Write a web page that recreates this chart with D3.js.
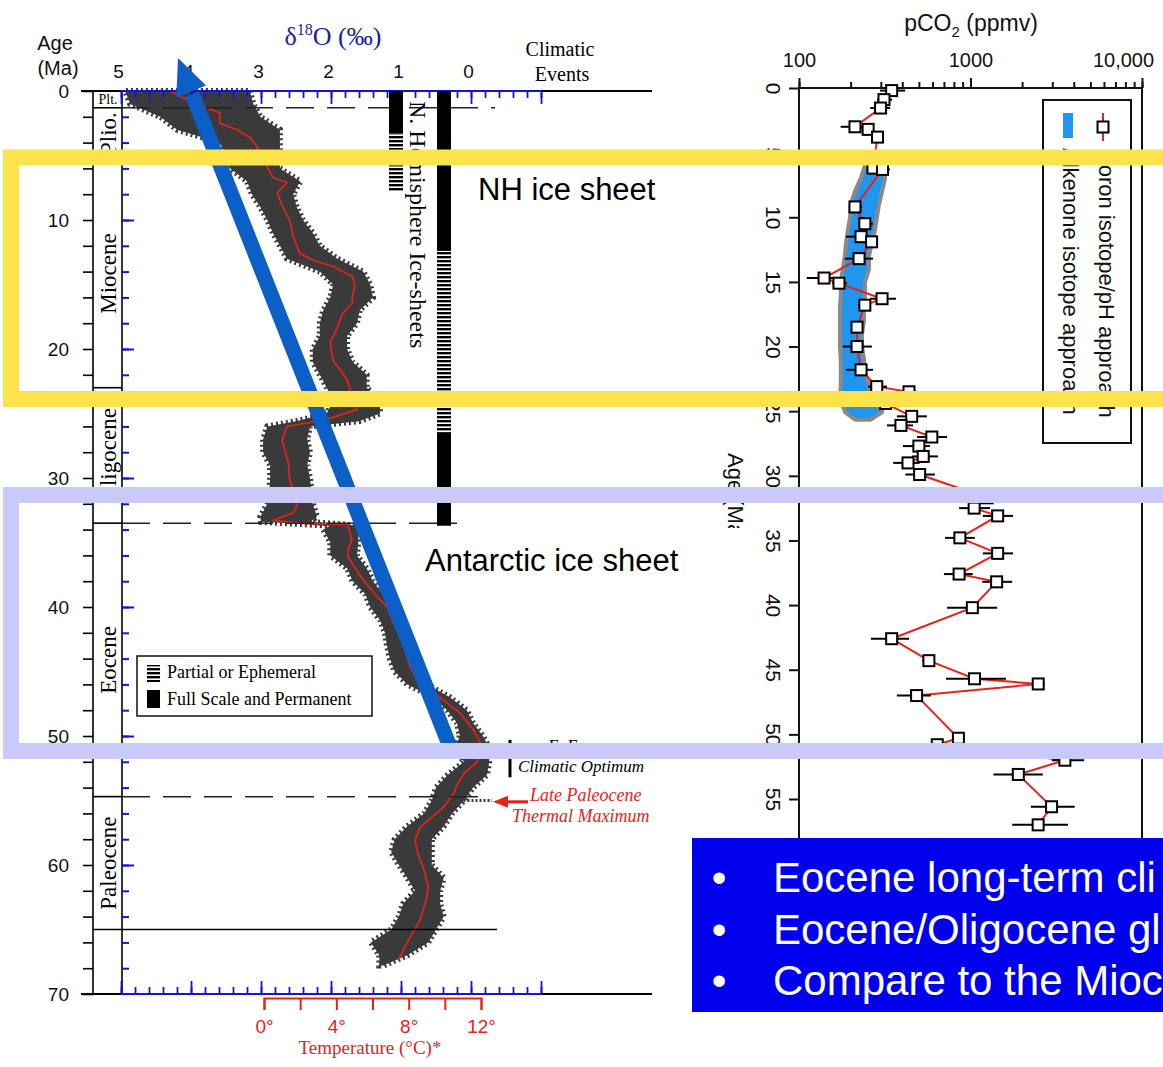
<!DOCTYPE html>
<html>
<head>
<meta charset="utf-8">
<script src="https://cdn.jsdelivr.net/npm/d3@7"></script>
<style>
  body { margin: 0; background: #fff; }
  svg { display: block; }
</style>
</head>
<body>
<div id="chart"></div>
<script>
// ---------- data: benthic d18O stack (left panel) ----------
const curveAge = [0, 0.7, 1.7, 2.5, 3.0, 3.6, 4.3, 5.9, 6.7, 7.1, 7.9, 9.0, 10.0, 11.3, 12.6, 13.1, 13.6, 14.4, 15.2, 16.0,
  16.4, 17.2, 18.3, 19.5, 20.9, 21.9, 22.4, 23.6, 24.7, 25.3, 25.7, 26.0, 27.1, 27.8, 28.8, 30.2, 31.3, 32.2, 32.7, 33.3,
  33.5, 33.6, 34.2, 34.8, 35.6, 36.1, 37.9, 39.2, 40.0, 41.2, 42.6, 43.9, 44.7, 45.3, 46.3, 47.2, 48.2, 49.5, 50.5, 51.5,
  52.0, 52.9, 53.9, 54.4, 55.5, 56.3, 57.1, 58.1, 59.1, 60.4, 61.7, 62.7, 64.3, 66.0, 67.4];
const curveD18 = [4.30, 4.05, 3.59, 3.59, 3.34, 3.16, 3.06, 2.91, 2.83, 2.63, 2.77, 2.69, 2.59, 2.54, 2.44, 2.26, 1.97, 1.69, 1.66, 1.70,
  1.69, 1.83, 1.91, 2.01, 1.97, 1.83, 1.77, 1.70, 1.63, 1.97, 2.30, 2.63, 2.70, 2.66, 2.61, 2.59, 2.51, 2.49, 2.54, 2.83,
  2.44, 1.77, 1.73, 1.70, 1.76, 1.76, 1.54, 1.34, 1.20, 1.11, 0.97, 0.91, 0.87, 0.80, 0.59, 0.40, 0.16, -0.03, -0.13, -0.10,
  -0.09, 0.10, 0.21, 0.24, 0.39, 0.56, 0.73, 0.80, 0.76, 0.67, 0.61, 0.64, 0.73, 0.91, 1.04];

// spread of the individual measurements (heavy = left edge, light = right edge)
const cloudAge = [0, 1, 2, 3, 4, 5, 6, 7, 8, 9, 10, 11, 12, 13, 14, 15, 16, 17, 18, 19, 20, 21, 22, 23, 24, 25, 25.6,
  26, 27, 28, 29, 30, 31, 32, 33, 33.4, 33.7, 34, 35, 36, 37, 38, 39, 40, 41, 42, 43, 44, 45, 46, 47, 48, 49, 50, 51,
  52, 53, 54, 55, 56, 57, 58, 59, 60, 61, 62, 63, 64, 65, 66, 67, 67.8];
const cloudHeavy = [4.94, 4.87, 4.44, 4.20, 3.59, 3.5, 3.44, 3.2, 3.13, 3.01, 2.91, 2.83, 2.73, 2.63, 2.16, 1.97, 2.01, 2.11, 2.16, 2.16,
  2.26, 2.26, 2.16, 2.06, 1.97, 2.06, 2.5, 2.91, 2.97, 2.97, 2.87, 2.87, 2.88, 2.91, 3.01, 3.0, 2.0, 2.11, 2.01, 2.01,
  1.77, 1.69, 1.51, 1.44, 1.30, 1.23, 1.20, 1.16, 1.09, 0.91, 0.54, 0.34, 0.20, 0.16, 0.23, 0.10, 0.33, 0.50, 0.56, 0.67,
  0.91, 1.09, 1.14, 1.03, 0.91, 0.80, 0.97, 1.03, 1.14, 1.43, 1.31, 1.31];
const cloudLight = [3.16, 3.11, 3.01, 2.73, 2.73, 2.73, 2.73, 2.44, 2.54, 2.49, 2.40, 2.26, 2.16, 1.91, 1.54, 1.44, 1.40, 1.59, 1.63, 1.77,
  1.77, 1.69, 1.49, 1.49, 1.30, 1.30, 1.6, 2.30, 2.34, 2.30, 2.34, 2.30, 2.28, 2.26, 2.20, 2.3, 1.6, 1.61, 1.61, 1.63,
  1.49, 1.40, 1.26, 1.09, 1.01, 0.94, 0.87, 0.83, 0.77, 0.63, 0.30, 0.06, -0.03, -0.17, -0.27, -0.26, -0.23, -0.03, 0.10, 0.27,
  0.39, 0.56, 0.56, 0.56, 0.39, 0.44, 0.44, 0.39, 0.50, 0.61, 0.91, 1.25];

const petmAge = 55.0;
const petmD18 = [0.45, -0.3];

const epochNames = ["Plt.", "Plio.", "Miocene", "Oligocene", "Eocene", "Paleocene"];
const epochStart = [0, 1.3, 5.3, 23.0, 33.5, 54.7];
const epochEnd = [1.3, 5.3, 23.0, 33.5, 54.7, 65.0];

const d18Ticks = [5, 4, 3, 2, 1, 0];
const tempTicks = [0, 4, 8, 12];

// ice-sheet extent [from, to] in Ma
const nhFull = [[0, 3.3]];
const nhPartial = [[3.3, 7.8]];
const antFull = [[0, 12.4], [26.5, 33.7]];
const antPartial = [[12.4, 26.5]];

const eecoAge = [50.3, 53.2];
const petmArrowAge = 55.1;

// ---------- data: pCO2 (right panel) ----------
const boronAge = [0.2, 0.9, 1.55, 3.0, 3.2, 3.8, 6.2, 6.3, 9.2, 10.5, 11.5, 11.9, 13.2, 14.7, 15.1, 16.3, 16.8, 18.5, 20.0, 21.8,
  23.1, 23.5, 24.4, 25.4, 26.1, 27.0, 27.7, 28.5, 29.0, 29.9, 31.7, 32.5, 33.1, 34.8, 36.0, 37.6, 38.2, 40.2, 42.6, 44.3,
  45.7, 46.1, 47.0, 50.3, 50.8, 52.0, 53.1, 55.6, 57.0];
const boronCO2 = [347, 313, 299, 212, 253, 287, 270, 307, 212, 242, 230, 265, 224, 140, 171, 305, 242, 218, 218, 230,
  284, 438, 320, 454, 393, 595, 500, 530, 432, 505, 1250, 1050, 1440, 867, 1440, 858, 1420, 1025, 347, 572,
  1055, 2483, 485, 850, 640, 3550, 1900, 2970, 2480];
const boronLo = [297, 285, 260, 175, 236, 270, 249, 285, 198, 221, 188, 249, 185, 111, 156, 260, 221, 203, 180, 188,
  253, 400, 290, 372, 326, 488, 404, 456, 354, 417, 1100, 858, 1180, 710, 1180, 700, 1170, 730, 263, 523,
  720, 2300, 372, 790, 590, 2980, 1360, 2250, 1750];
const boronHi = [416, 349, 340, 248, 270, 309, 296, 339, 233, 270, 259, 289, 270, 162, 190, 368, 259, 236, 266, 270,
  326, 488, 355, 557, 462, 730, 580, 646, 505, 620, 1420, 1300, 1770, 1060, 1770, 1030, 1750, 1430, 438, 620,
  1610, 2700, 588, 900, 700, 4600, 2640, 4050, 3700];

const alkAge = [5.5, 6, 7, 8, 9, 10, 11, 12, 13, 14, 15, 16, 17, 18, 19, 20, 21, 22, 23, 24, 25, 25.5];
const alkLo = [262, 249, 236, 218, 206, 204, 198, 193, 190, 185, 180, 180, 178, 178, 178, 178, 180, 180, 180, 178, 190, 215];
const alkHi = [290, 309, 309, 297, 285, 277, 270, 259, 249, 249, 236, 236, 233, 233, 227, 227, 233, 236, 249, 249, 297, 260];

const co2Labels = [100, 1000, 10000];
const ageRTicks = [0, 5, 10, 15, 20, 25, 30, 35, 40, 45, 50, 55];

// slide bullets, as far as they show in the picture
const bullets = ["Eocene long-term cli", "Eocene/Oligocene gl", "Compare to the Mioc"];

// ---------- setup ----------
const W = 1163, H = 1067;
const SERIF = "'Liberation Serif','Times New Roman',serif";
const SANS = "'Liberation Sans',Arial,sans-serif";
const AXBLUE = "#1414d8";
const RED = "#e4231b";

const svg = d3.select("#chart").append("svg")
  .attr("width", W).attr("height", H).attr("viewBox", [0, 0, W, H]);
svg.append("rect").attr("width", W).attr("height", H).attr("fill", "#fff");

const defs = svg.append("defs");
defs.append("pattern").attr("id", "stripes").attr("patternUnits", "userSpaceOnUse")
  .attr("width", 20).attr("height", 4)
  .append("rect").attr("width", 20).attr("height", 2.4).attr("fill", "#000");

// ================= LEFT PANEL =================
const ageL = d3.scaleLinear([0, 70], [91, 994]);
const d18 = d3.scaleLinear([5, -1], [121, 541]);
const tempX = d3.scaleLinear([0, 12], [264, 481]);
const left = svg.append("g");

// measurement cloud: ragged dotted rim first, solid body on top
const ci = d3.range(cloudAge.length);
const cloudArea = d3.area().y(i => ageL(cloudAge[i])).x0(i => d18(cloudHeavy[i])).x1(i => d18(cloudLight[i]));
left.append("path").datum(ci).attr("d", cloudArea)
  .attr("fill", "none").attr("stroke", "#3a3a3a").attr("stroke-width", 6).attr("stroke-dasharray", "2 3");
left.append("path").datum(ci).attr("d", cloudArea).attr("fill", "#3a3a3a");
left.append("line")
  .attr("x1", d18(petmD18[0])).attr("x2", d18(petmD18[1]))
  .attr("y1", ageL(petmAge)).attr("y2", ageL(petmAge))
  .attr("stroke", "#3a3a3a").attr("stroke-width", 3).attr("stroke-dasharray", "2 2");

// smoothed curve
left.append("path").datum(d3.range(curveAge.length))
  .attr("d", d3.line().x(i => d18(curveD18[i])).y(i => ageL(curveAge[i])))
  .attr("fill", "none").attr("stroke", RED).attr("stroke-width", 1.7);

// epoch column
left.append("g").selectAll("line").data([93, 122]).join("line")
  .attr("x1", d => d).attr("x2", d => d).attr("y1", ageL(0)).attr("y2", ageL(70))
  .attr("stroke", "#000").attr("stroke-width", 1.6);
left.append("g").selectAll("line").data(epochEnd).join("line")
  .attr("x1", 93).attr("x2", (d, i) => i === epochEnd.length - 1 ? 497 : 122)
  .attr("y1", d => ageL(d)).attr("y2", d => ageL(d))
  .attr("stroke", "#000").attr("stroke-width", 1.6);
// dashed boundaries
const dashEnds = [[1.3, 495], [33.5, 457], [54.7, 489]];
left.append("g").selectAll("line").data(dashEnds).join("line")
  .attr("x1", 122).attr("x2", d => d[1])
  .attr("y1", d => ageL(d[0])).attr("y2", d => ageL(d[0]))
  .attr("stroke", "#222").attr("stroke-width", 1.5).attr("stroke-dasharray", "28 13");

left.append("g").selectAll("text").data(epochNames).join("text")
  .attr("transform", (d, i) => i === 0
    ? `translate(108,${ageL((epochStart[i] + epochEnd[i]) / 2)})`
    : `translate(108,${ageL((epochStart[i] + epochEnd[i]) / 2)}) rotate(-90)`)
  .attr("text-anchor", "middle").attr("dominant-baseline", "central")
  .attr("font-family", SERIF).attr("font-size", (d, i) => i === 0 ? 14 : 23)
  .text(d => d);

// age axis (black ticks + labels)
left.append("g").attr("transform", "translate(93,0)")
  .call(d3.axisLeft(ageL).tickValues(d3.range(0, 71, 2)).tickSize(10).tickFormat(""))
  .call(g => g.select(".domain").remove())
  .call(g => g.selectAll(".tick line").attr("stroke", "#000").attr("stroke-width", 1.6));
left.append("g").attr("transform", "translate(93,0)")
  .call(d3.axisLeft(ageL).tickValues(d3.range(0, 71, 10)).tickSize(0).tickPadding(24))
  .call(g => g.select(".domain").remove())
  .call(g => g.selectAll(".tick text").attr("font-family", SANS).attr("font-size", 19).attr("fill", "#111"));
// blue ticks inside column edge
[[d3.range(2, 70, 2), 7], [d3.range(10, 70, 10), 12]].forEach(([vals, size]) => {
  left.append("g").attr("transform", "translate(122,0)")
    .call(d3.axisRight(ageL).tickValues(vals).tickSize(size).tickFormat(""))
    .call(g => g.select(".domain").remove())
    .call(g => g.selectAll(".tick line").attr("stroke", AXBLUE).attr("stroke-width", 2));
});

// top & bottom frame
[91, 994].forEach(y => {
  left.append("line").attr("x1", 81).attr("x2", 652).attr("y1", y).attr("y2", y)
    .attr("stroke", "#000").attr("stroke-width", 2);
  left.append("line").attr("x1", d18(5)).attr("x2", d18(-1)).attr("y1", y).attr("y2", y)
    .attr("stroke", AXBLUE).attr("stroke-width", 2);
});
const d18Minor = d3.range(-1, 5.001, 0.2);
const d18Major = d3.range(-1, 5.001, 1);
[[d18Minor, 7], [d18Major, 13]].forEach(([vals, size]) => {
  left.append("g").attr("transform", "translate(0,91)")
    .call(d3.axisBottom(d18).tickValues(vals).tickSize(size).tickFormat(""))
    .call(g => g.select(".domain").remove())
    .call(g => g.selectAll(".tick line").attr("stroke", AXBLUE).attr("stroke-width", 1.8));
  left.append("g").attr("transform", "translate(0,994)")
    .call(d3.axisTop(d18).tickValues(vals).tickSize(size).tickFormat(""))
    .call(g => g.select(".domain").remove())
    .call(g => g.selectAll(".tick line").attr("stroke", AXBLUE).attr("stroke-width", 1.8));
});
left.append("g").attr("transform", "translate(-3,91)")
  .call(d3.axisTop(d18).tickValues(d18Ticks).tickSize(0).tickPadding(13).tickFormat(d3.format("d")))
  .call(g => g.select(".domain").remove())
  .call(g => g.selectAll(".tick text").attr("font-family", SANS).attr("font-size", 19).attr("fill", "#111"));

// temperature axis
left.append("g").attr("transform", "translate(0,998)")
  .call(d3.axisBottom(tempX).tickValues(d3.range(0, 13, 2)).tickSize(12).tickSizeOuter(12).tickFormat(""))
  .call(g => g.select(".domain").attr("stroke", RED).attr("stroke-width", 2))
  .call(g => g.selectAll(".tick line").attr("stroke", RED).attr("stroke-width", 2));
left.append("g").attr("transform", "translate(0,998)")
  .call(d3.axisBottom(tempX).tickValues(tempTicks).tickSize(0).tickPadding(22).tickFormat(d => d + "°"))
  .call(g => g.select(".domain").remove())
  .call(g => g.selectAll(".tick text").attr("font-family", SANS).attr("font-size", 19).attr("fill", RED));
left.append("text").attr("x", 370).attr("y", 1054).attr("text-anchor", "middle")
  .attr("font-family", SERIF).attr("font-size", 19).attr("fill", RED).text("Temperature (°C)*");

// titles
const t18 = left.append("text").attr("x", 333).attr("y", 45).attr("text-anchor", "middle")
  .attr("font-family", SERIF).attr("font-size", 26).attr("fill", "#1c1ca6");
t18.append("tspan").text("δ");
t18.append("tspan").attr("dy", -10).attr("font-size", 16).text("18");
t18.append("tspan").attr("dy", 10).text("O (‰)");
left.append("text").attr("x", 55).attr("y", 50).attr("text-anchor", "middle")
  .attr("font-family", SANS).attr("font-size", 20).attr("fill", "#111").text("Age");
left.append("text").attr("x", 58).attr("y", 75).attr("text-anchor", "middle")
  .attr("font-family", SANS).attr("font-size", 20).attr("fill", "#111").text("(Ma)");
left.append("text").attr("x", 560).attr("y", 56).attr("text-anchor", "middle")
  .attr("font-family", SERIF).attr("font-size", 20).text("Climatic");
left.append("text").attr("x", 562).attr("y", 81).attr("text-anchor", "middle")
  .attr("font-family", SERIF).attr("font-size", 20).text("Events");

// ice-sheet bars
const bars = [
  {x: 389, full: nhFull, partial: nhPartial},
  {x: 437, full: antFull, partial: antPartial}
];
bars.forEach(b => {
  left.append("g").selectAll("rect").data(b.full).join("rect")
    .attr("x", b.x).attr("width", 14).attr("y", d => ageL(d[0])).attr("height", d => ageL(d[1]) - ageL(d[0]))
    .attr("fill", "#000");
  left.append("g").selectAll("rect").data(b.partial).join("rect")
    .attr("x", b.x).attr("width", 14).attr("y", d => ageL(d[0])).attr("height", d => ageL(d[1]) - ageL(d[0]))
    .attr("fill", "url(#stripes)");
});
left.append("text").attr("transform", "translate(418,101) rotate(90)")
  .attr("dominant-baseline", "central")
  .attr("font-family", SERIF).attr("font-size", 24).text("N. Hemisphere Ice-sheets");

// ice legend
left.append("rect").attr("x", 137).attr("y", 656).attr("width", 235).attr("height", 60)
  .attr("fill", "#fff").attr("stroke", "#111").attr("stroke-width", 1.5);
left.append("rect").attr("x", 147).attr("y", 665).attr("width", 13).attr("height", 17).attr("fill", "url(#stripes)");
left.append("rect").attr("x", 147).attr("y", 690).attr("width", 13).attr("height", 18).attr("fill", "#000");
left.append("text").attr("x", 167).attr("y", 678).attr("font-family", SERIF).attr("font-size", 18).text("Partial or Ephemeral");
left.append("text").attr("x", 167).attr("y", 705).attr("font-family", SERIF).attr("font-size", 18).text("Full Scale and Permanent");

// climatic events
left.append("line").attr("x1", 510).attr("x2", 510).attr("y1", ageL(eecoAge[0])).attr("y2", ageL(eecoAge[1]))
  .attr("stroke", "#000").attr("stroke-width", 3);
left.append("text").attr("x", 548).attr("y", 751).attr("font-family", SERIF).attr("font-style", "italic")
  .attr("font-size", 17).text("E. Eocene");
left.append("text").attr("x", 518).attr("y", 772).attr("font-family", SERIF).attr("font-style", "italic")
  .attr("font-size", 17).text("Climatic Optimum");
const py = ageL(petmArrowAge);
left.append("line").attr("x1", 528).attr("x2", 505).attr("y1", py).attr("y2", py)
  .attr("stroke", RED).attr("stroke-width", 3);
left.append("path").attr("d", `M493,${py} L508,${py - 6} L508,${py + 6} Z`).attr("fill", RED);
left.append("text").attr("x", 530).attr("y", 801).attr("font-family", SERIF).attr("font-style", "italic")
  .attr("font-size", 18).attr("fill", RED).text("Late Paleocene");
left.append("text").attr("x", 512).attr("y", 822).attr("font-family", SERIF).attr("font-style", "italic")
  .attr("font-size", 18).attr("fill", RED).text("Thermal Maximum");

// ================= RIGHT PANEL =================
const ageR = d3.scaleLinear([0, 55], [88, 799]);
const co2 = d3.scaleLog([100, 10000], [799, 1142]);
const right = svg.append("g");

right.append("text").attr("x", 971).attr("y", 31).attr("text-anchor", "middle")
  .attr("font-family", SANS).attr("font-size", 23).attr("fill", "#111")
  .call(t => {
    t.append("tspan").text("pCO");
    t.append("tspan").attr("dy", 6).attr("font-size", 15).text("2");
    t.append("tspan").attr("dy", -6).text(" (ppmv)");
  });

// frame
right.append("path").attr("d", `M${co2(100)},838 V${ageR(0)} H${co2(10000)} V838`)
  .attr("fill", "none").attr("stroke", "#111").attr("stroke-width", 2);

const co2Minor = [];
[100, 1000].forEach(dec => d3.range(1, 11).forEach(k => co2Minor.push(dec * k)));
right.append("g").attr("transform", `translate(0,${ageR(0)})`)
  .call(d3.axisTop(co2).tickValues(co2Minor).tickSize(6).tickFormat(""))
  .call(g => g.select(".domain").remove())
  .call(g => g.selectAll(".tick line").attr("stroke", "#111").attr("stroke-width", 2));
right.append("g").attr("transform", `translate(0,${ageR(0)})`)
  .call(d3.axisTop(co2).tickValues(co2Labels).tickSize(10).tickPadding(11)
    .tickFormat(d => d === 10000 ? "10,000" : String(d)))
  .call(g => g.select(".domain").remove())
  .call(g => g.selectAll(".tick line").attr("stroke", "#111").attr("stroke-width", 2))
  .call(g => g.selectAll(".tick text").attr("font-family", SANS).attr("font-size", 20).attr("fill", "#111")
    .attr("x", d => d === 10000 ? -19 : 0));

right.append("g").attr("transform", `translate(${co2(100)},0)`)
  .call(d3.axisLeft(ageR).tickValues(ageRTicks).tickSize(10))
  .call(g => g.select(".domain").remove())
  .call(g => g.selectAll(".tick line").attr("stroke", "#111").attr("stroke-width", 2))
  .call(g => g.selectAll(".tick text").attr("x", null).attr("dy", null)
    .attr("transform", "translate(-26,0) rotate(90)")
    .attr("text-anchor", "middle").attr("dominant-baseline", "central")
    .attr("font-family", SANS).attr("font-size", 21).attr("fill", "#111"));
right.append("text").attr("transform", "translate(735,453) rotate(90)")
  .attr("dominant-baseline", "central").attr("font-family", SANS).attr("font-size", 22).attr("fill", "#111")
  .text("Age (Ma)");
right.append("rect").attr("x", 720).attr("y", 528).attr("width", 36).attr("height", 80).attr("fill", "#fff");

// alkenone band
const ai = d3.range(alkAge.length);
const alkArea = d3.area().y(i => ageR(alkAge[i])).x0(i => co2(alkLo[i])).x1(i => co2(alkHi[i]));
right.append("path").datum(ai).attr("d", alkArea)
  .attr("fill", "#8a8a8a").attr("stroke", "#8a8a8a").attr("stroke-width", 8).attr("stroke-linejoin", "round");
right.append("path").datum(ai).attr("d", alkArea).attr("fill", "#2196ee");

// boron series
const bi = d3.range(boronAge.length);
right.append("path").datum(bi)
  .attr("d", d3.line().x(i => co2(boronCO2[i])).y(i => ageR(boronAge[i])))
  .attr("fill", "none").attr("stroke", RED).attr("stroke-width", 2);
right.append("g").selectAll("line").data(bi).join("line")
  .attr("x1", i => co2(boronLo[i])).attr("x2", i => co2(boronHi[i]))
  .attr("y1", i => ageR(boronAge[i])).attr("y2", i => ageR(boronAge[i]))
  .attr("stroke", "#000").attr("stroke-width", 2);
right.append("g").selectAll("rect").data(bi).join("rect")
  .attr("x", i => co2(boronCO2[i]) - 5.5).attr("y", i => ageR(boronAge[i]) - 5.5)
  .attr("width", 11).attr("height", 11)
  .attr("fill", "#fff").attr("stroke", "#000").attr("stroke-width", 2);

// legend (rotated)
right.append("rect").attr("x", 1043).attr("y", 100).attr("width", 88).attr("height", 343)
  .attr("fill", "#fff").attr("stroke", "#111").attr("stroke-width", 2);
right.append("line").attr("x1", 1103).attr("x2", 1103).attr("y1", 113).attr("y2", 141)
  .attr("stroke", RED).attr("stroke-width", 2);
right.append("rect").attr("x", 1097.5).attr("y", 121.5).attr("width", 11).attr("height", 11)
  .attr("fill", "#fff").attr("stroke", "#000").attr("stroke-width", 2);
right.append("rect").attr("x", 1063).attr("y", 113).attr("width", 10).attr("height", 25).attr("fill", "#2196ee");
right.append("text").attr("transform", "translate(1106,150) rotate(90)")
  .attr("dominant-baseline", "central").attr("font-family", SANS).attr("font-size", 22).attr("fill", "#111")
  .text("Boron isotope/pH approach");
right.append("text").attr("transform", "translate(1070,148) rotate(90)")
  .attr("dominant-baseline", "central").attr("font-family", SANS).attr("font-size", 22).attr("fill", "#111")
  .text("Alkenone isotope approach");

// ================= ANNOTATIONS =================
const ann = svg.append("g");
ann.append("line").attr("x1", 452).attr("y1", 752).attr("x2", 192).attr("y2", 94)
  .attr("stroke", "#0d5fc8").attr("stroke-width", 15);
ann.append("path").attr("d", "M178,58 L206,85.6 L176.3,97.4 Z").attr("fill", "#0d5fc8");

ann.append("rect").attr("x", 11).attr("y", 157.5).attr("width", 1200).attr("height", 241.5)
  .attr("fill", "none").attr("stroke", "#fce34c").attr("stroke-width", 16);
ann.append("rect").attr("x", 11).attr("y", 495).attr("width", 1200).attr("height", 256)
  .attr("fill", "none").attr("stroke", "#c9c9fa").attr("stroke-width", 16);

ann.append("text").attr("x", 478).attr("y", 200).attr("font-family", SANS).attr("font-size", 31)
  .attr("fill", "#000").text("NH ice sheet");
ann.append("text").attr("x", 425).attr("y", 571).attr("font-family", SANS).attr("font-size", 31)
  .attr("fill", "#000").text("Antarctic ice sheet");

// bottom text box
ann.append("rect").attr("x", 692).attr("y", 838).attr("width", 500).attr("height", 174).attr("fill", "#0000ee");
const bl = ann.append("g").selectAll("g").data(bullets).join("g")
  .attr("transform", (d, i) => `translate(0,${892 + i * 51.5})`);
bl.append("text").attr("x", 719).attr("text-anchor", "middle")
  .attr("font-family", SANS).attr("font-size", 42).attr("fill", "#fff").text("•");
bl.append("text").attr("x", 773)
  .attr("font-family", SANS).attr("font-size", 42).attr("fill", "#fff").text(d => d);
</script>
</body>
</html>
